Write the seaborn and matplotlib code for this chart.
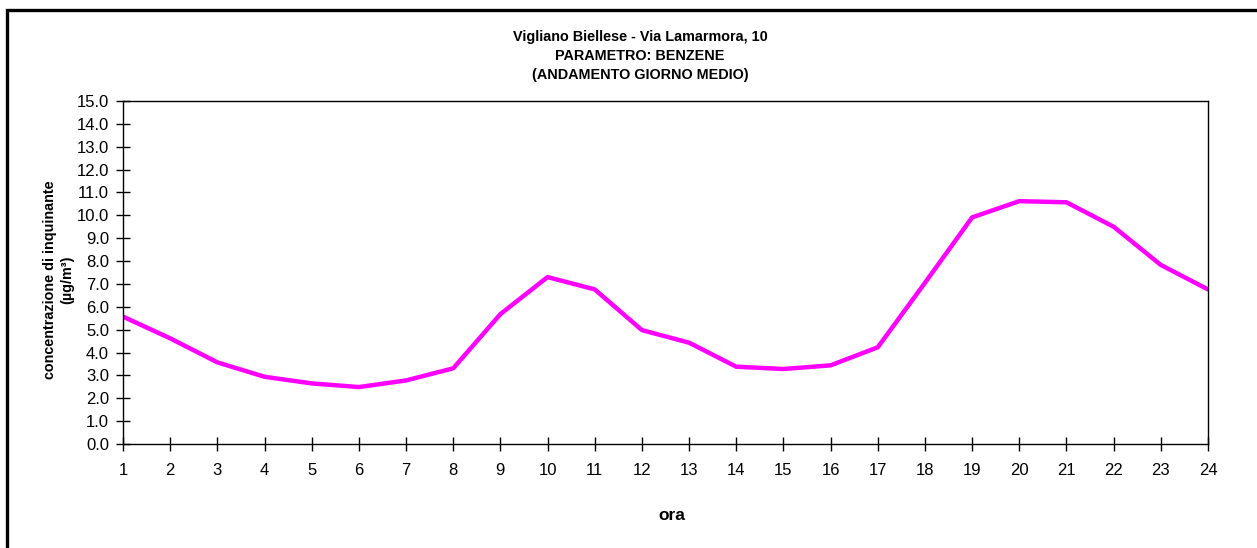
import matplotlib
matplotlib.use('Agg')

import pandas as pd
import seaborn as sns
import matplotlib.pyplot as plt
from matplotlib.patches import Rectangle

# average day profile of benzene (µg/m³) per hour
ore = list(range(1, 25))
benzene = [5.57, 4.62, 3.57, 2.94, 2.65, 2.49, 2.78, 3.31, 5.68, 7.30, 6.76, 4.98,
           4.43, 3.38, 3.28, 3.44, 4.23, 7.05, 9.91, 10.62, 10.57, 9.50, 7.83, 6.76]
y_ticks = [i for i in range(16)]

df = pd.DataFrame({'ora': ore, 'benzene': benzene})

sns.set_style('white')
plt.rcParams['font.family'] = ['Liberation Sans', 'DejaVu Sans']
plt.rcParams['text.color'] = 'black'

fig = plt.figure(figsize=(12.57, 5.48), dpi=100)
ax = fig.add_axes([123 / 1257, 1 - 444 / 548, (1208 - 123) / 1257, (444 - 101) / 548])

sns.lineplot(data=df, x='ora', y='benzene', color='#FF00FF', linewidth=3.2, ax=ax)

ax.set_xlim(1, 24)
ax.set_ylim(0, 15)
ax.set_xticks(ore)
ax.set_yticks(y_ticks)
ax.set_yticklabels([f'{v:.1f}' for v in y_ticks])
ax.tick_params(axis='both', bottom=True, left=True, direction='inout', length=10, width=1,
               color='black', labelsize=12, labelcolor='black')
ax.tick_params(axis='x', pad=9)
ax.tick_params(axis='y', pad=5)
for s in ax.spines.values():
    s.set_color('black')
    s.set_linewidth(1)
ax.set_xlabel('')
ax.set_ylabel('')

# titles and labels placed like the Excel chart
fig.text(640 / 1257, 1 - 56 / 548, 'Vigliano Biellese - Via Lamarmora, 10\nPARAMETRO: BENZENE\n(ANDAMENTO GIORNO MEDIO)',
         ha='center', va='center', fontsize=10.4, fontweight='bold', linespacing=1.5)
fig.text(59 / 1257, 1 - 280 / 548, 'concentrazione di inquinante\n(µg/m³)', rotation=90,
         ha='center', va='center', fontsize=10.4, fontweight='bold', linespacing=1.3)
fig.text(672 / 1257, 1 - 515 / 548, 'ora', ha='center', va='center', fontsize=12.5, fontweight='bold')

# outer chart frame (left and top visible)
fig.patches.append(Rectangle((7 / 1257, -0.1), 1.2, 1 - 10.5 / 548 + 0.1, transform=fig.transFigure,
                             fill=False, edgecolor='black', linewidth=2.4))

fig.savefig('out.png', dpi=100)
